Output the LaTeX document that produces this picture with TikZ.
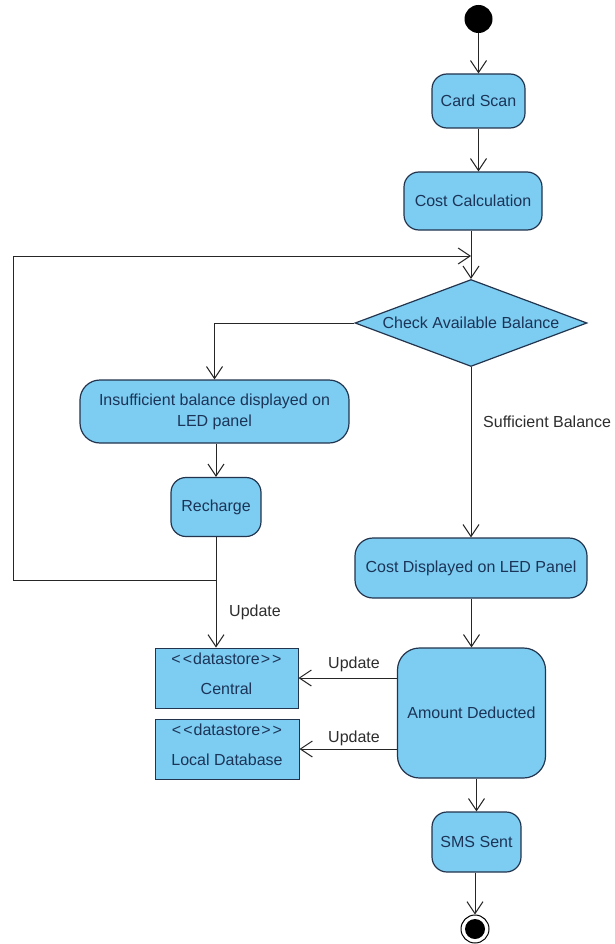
\documentclass[tikz,border=0pt]{standalone}
\usepackage{fontspec}
\newfontfamily\diag{Liberation Sans}
\usetikzlibrary{arrows.meta,shapes.geometric}
\definecolor{actfill}{RGB}{124,205,241}
\definecolor{actdraw}{RGB}{34,52,78}
\definecolor{acttext}{RGB}{28,52,88}
\definecolor{lbltext}{RGB}{45,45,45}
\tikzset{
  act/.style={draw=actdraw, fill=actfill, line width=1.2pt, rounded corners=#1,
    font=\diag\fontsize{16}{19}\selectfont, text=acttext, inner sep=0pt, align=center},
  act/.default=15pt,
  dstore/.style={draw=actdraw, fill=actfill, line width=1pt, inner sep=0pt,
    font=\diag\fontsize{16}{19}\selectfont, text=acttext},
  dec/.style={draw=actdraw, fill=actfill, line width=1.2pt, diamond, aspect=2.67, inner sep=0pt,
    font=\diag\fontsize{16}{19}\selectfont, text=acttext},
  conn/.style={draw=black!85, line width=1pt},
  arr/.style={conn, -{Straight Barb[length=12pt,width=16pt,line width=1pt]}},
  lbl/.style={font=\diag\fontsize{16}{19}\selectfont, text=lbltext, inner sep=0pt}
}
\newcommand{\dsname}{<\kern2pt<\kern1pt datastore\kern1pt>\kern2pt>}
\begin{document}
\begin{tikzpicture}[x=1pt,y=-1pt]
\useasboundingbox (0,0) rectangle (614,944);
\fill[white] (0,0) rectangle (614,944);

\node[circle, fill=black, minimum size=28pt, inner sep=0pt] (init) at (478.5,19) {};
\node[act, minimum width=93pt, minimum height=54pt] (scan) at (478.5,101) {Card Scan};
\node[act, minimum width=138pt, minimum height=58pt] (cost) at (473,201) {Cost Calculation};
\node[dec, minimum width=232pt, minimum height=87pt] (check) at (471,323) {Check Available Balance};
\node[act=20pt, minimum width=269pt, minimum height=63pt] (insuf) at (214.5,411.5)
  {Insufficient balance displayed on\\[2pt]LED panel};
\node[act, minimum width=90pt, minimum height=59pt] (rech) at (216,507) {Recharge};
\node[act=18pt, minimum width=232pt, minimum height=60pt] (disp) at (471,568) {Cost Displayed on LED Panel};
\node[act=22pt, minimum width=148pt, minimum height=130pt] (amount) at (471.5,713) {Amount Deducted};
\node[act, minimum width=89pt, minimum height=60pt] (sms) at (476.5,842) {SMS Sent};

\node[dstore, minimum width=143pt, minimum height=60pt] (central) at (226.5,678) {};
\node[lbl, text=acttext] (centralA) at (226.5,659) {\dsname};
\node[lbl, text=acttext] (centralB) at (226.5,689) {Central};
\node[dstore, minimum width=144pt, minimum height=60pt] (local) at (227,749) {};
\node[lbl, text=acttext] (localA) at (227,730) {\dsname};
\node[lbl, text=acttext] (localB) at (227,760) {Local Database};

\node[circle, draw=black, line width=1pt, fill=white, minimum size=28pt, inner sep=0pt] (final) at (475,929) {};
\node[circle, fill=black, minimum size=20pt, inner sep=0pt] (finalin) at (final.center) {};

% connectors
\draw[arr] (init) -- (scan.north -| init);
\draw[arr] (scan.south) -- (scan.south |- cost.north);
\draw[arr] (cost.south -| check.north) -- (check.north);
\draw[arr] (check.west) -| (insuf.north);
\draw[arr] (insuf.south -| rech.north) -- (rech.north);
\draw[arr] (check.south) -- (disp.north -| check.south);
\node[lbl, anchor=west] (suff) at (483,422) {Sufficient Balance};

\coordinate (junc) at (rech.south |- 0,580);
\coordinate (loopL) at (13,256);
\coordinate (loopE) at (check.north |- loopL);
\draw[conn] (rech.south) -- (junc);
\draw[arr] (junc) -| (loopL) -- (loopE);
\draw[arr] (junc) -- (junc |- central.north);
\node[lbl, anchor=west] (upd1) at (229,612) {Update};

\draw[arr] (disp.south -| amount.north) -- (amount.north);
\draw[arr] (amount.west |- central.east) -- (central.east);
\draw[arr] (amount.west |- local.east) -- (local.east);
\node[lbl] (upd2) at (354,664) {Update};
\node[lbl] (upd3) at (354,738) {Update};

\draw[arr] (amount.south -| sms.north) -- (sms.north);
\draw[arr] (sms.south -| final.north) -- (final.north);
\end{tikzpicture}
\end{document}
